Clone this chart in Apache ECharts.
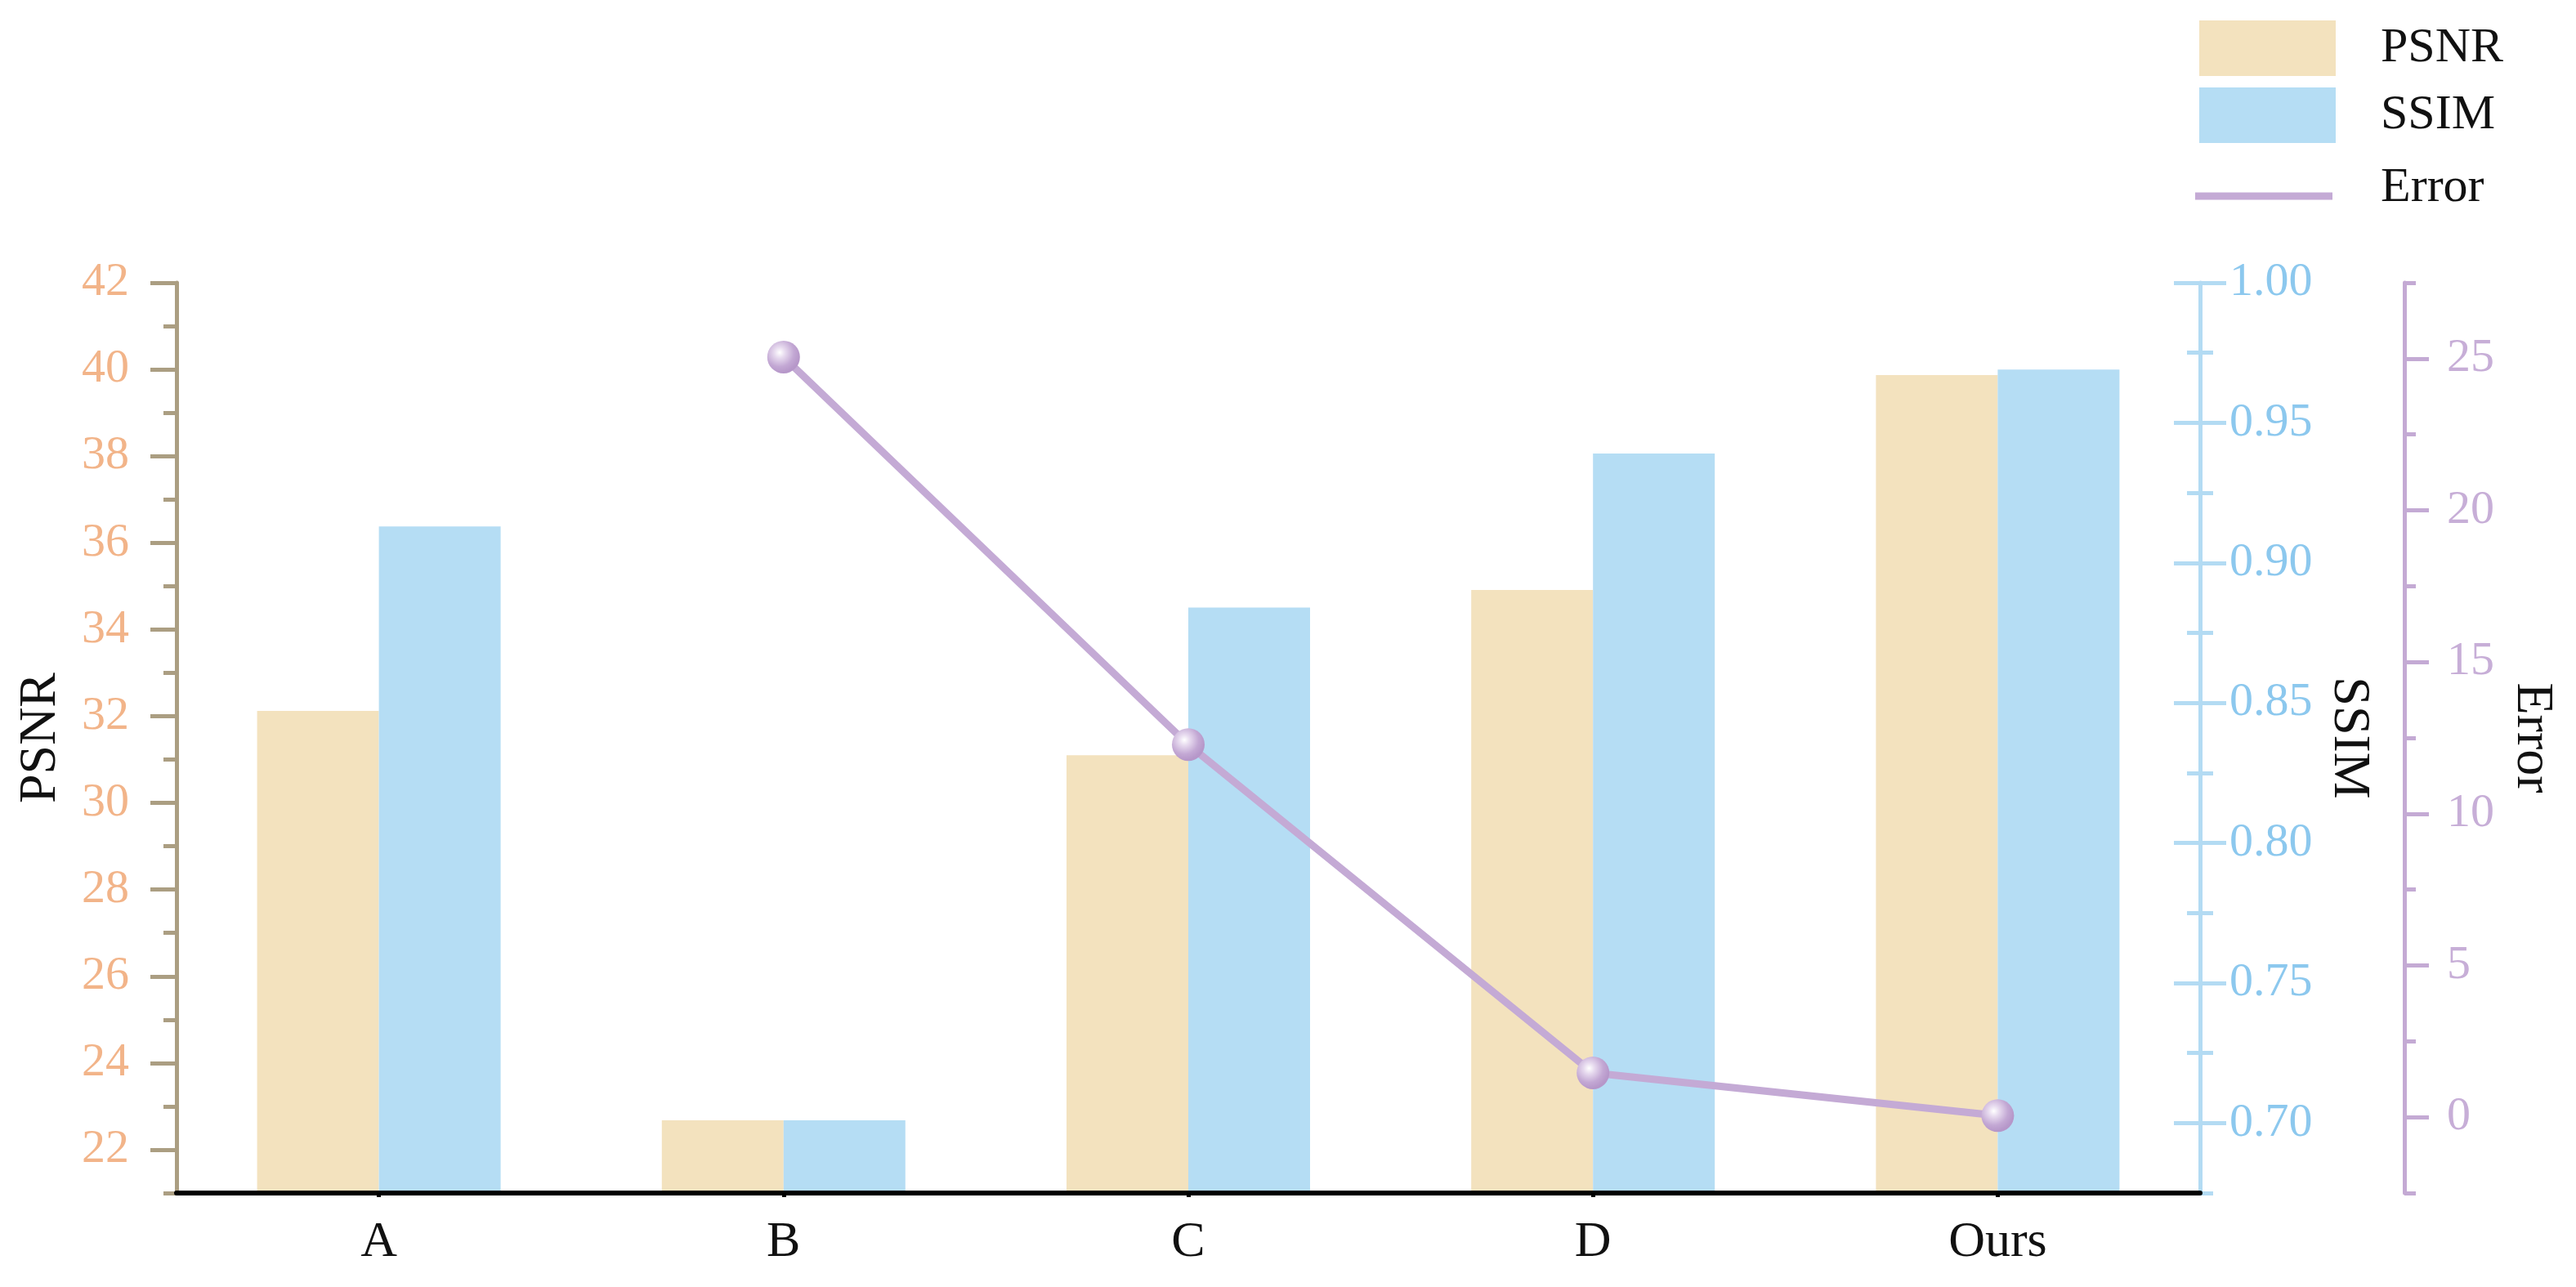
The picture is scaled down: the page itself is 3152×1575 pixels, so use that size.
<!DOCTYPE html>
<html>
<head>
<meta charset="utf-8">
<script src="https://cdn.jsdelivr.net/npm/echarts@6/dist/echarts.min.js"></script>
<style>
html,body{margin:0;padding:0;background:#fff;}
#c{width:3152px;height:1575px;}
</style>
</head>
<body>
<div id="c"></div>
<script>
const categories = ['A', 'B', 'C', 'D', 'Ours'];
const psnrValues = [32.12, 22.68, 31.10, 34.91, 39.87];
const ssimValues = [0.913, 0.701, 0.884, 0.939, 0.969];
const errorValues = [null, 25.05, 12.28, 1.46, 0.05];

const psnrMajorTicks = [22, 24, 26, 28, 30, 32, 34, 36, 38, 40, 42];
const psnrMinorTicks = [21, 23, 25, 27, 29, 31, 33, 35, 37, 39, 41];
const ssimMajorTicks = [0.70, 0.75, 0.80, 0.85, 0.90, 0.95, 1.00];
const ssimMinorTicks = [0.675, 0.725, 0.775, 0.825, 0.875, 0.925, 0.975];
const errorMajorTicks = [0, 5, 10, 15, 20, 25];
const errorMinorTicks = [-2.5, 2.5, 7.5, 12.5, 17.5, 22.5, 27.5];

const FONT = '"Liberation Serif", "DejaVu Serif", serif';
const C_PSNR_BAR = '#F3E2BE';
const C_SSIM_BAR = '#B5DDF4';
const C_PSNR_AXIS = '#AB9E82';
const C_PSNR_LABEL = '#F2B489';
const C_SSIM_AXIS = '#B3DBF3';
const C_SSIM_LABEL = '#8CC8EE';
const C_ERR_AXIS = '#C4AAD4';
const C_ERR_LABEL = '#C7AED7';
const C_ERR_LINE = '#C4AAD5';

const PMIN = 21, PMAX = 42;
const SMIN = 0.675, SMAX = 1.0;
const EMIN = -2.5, EMAX = 27.5;

function tickAxis(base, extra) {
  return Object.assign({
    type: 'value',
    splitLine: { show: false },
    axisLine: { show: false },
    axisLabel: { show: false },
    axisTick: { show: false }
  }, base, extra);
}

const chart = echarts.init(document.getElementById('c'), null, { renderer: 'canvas' });

const yAxes = [
  // 0 PSNR main
  tickAxis({ position: 'left', min: PMIN, max: PMAX }, {
    name: 'PSNR', nameLocation: 'middle', nameGap: 134,
    nameTextStyle: { fontFamily: FONT, fontSize: 64, color: '#111' },
    axisLine: { show: true, onZero: false, lineStyle: { color: C_PSNR_AXIS, width: 5 } },
    axisTick: { show: true, customValues: psnrMajorTicks, length: 32, lineStyle: { color: C_PSNR_AXIS, width: 5 } },
    axisLabel: { show: true, customValues: psnrMajorTicks, margin: 58, color: C_PSNR_LABEL, fontFamily: FONT, fontSize: 58 }
  }),
  // 1 PSNR minor
  tickAxis({ position: 'left', min: PMIN, max: PMAX }, {
    axisTick: { show: true, customValues: psnrMinorTicks, length: 16, lineStyle: { color: C_PSNR_AXIS, width: 5 } }
  }),
  // 2 SSIM main
  tickAxis({ position: 'right', min: SMIN, max: SMAX }, {
    name: 'SSIM', nameLocation: 'middle', nameGap: 150, nameRotate: -90,
    nameTextStyle: { fontFamily: FONT, fontSize: 64, color: '#111' },
    axisLine: { show: true, onZero: false, lineStyle: { color: C_SSIM_AXIS, width: 5 } },
    axisTick: { show: true, customValues: ssimMajorTicks, length: 32, lineStyle: { color: C_SSIM_AXIS, width: 5 } },
    axisLabel: { show: true, customValues: ssimMajorTicks, margin: 36, color: C_SSIM_LABEL, fontFamily: FONT, fontSize: 58,
      formatter: v => Number(v).toFixed(2) }
  }),
  // 3 SSIM major inside
  tickAxis({ position: 'right', min: SMIN, max: SMAX }, {
    axisTick: { show: true, inside: true, customValues: ssimMajorTicks, length: 32, lineStyle: { color: C_SSIM_AXIS, width: 5 } }
  }),
  // 4 SSIM minor outside
  tickAxis({ position: 'right', min: SMIN, max: SMAX }, {
    axisTick: { show: true, customValues: ssimMinorTicks, length: 16, lineStyle: { color: C_SSIM_AXIS, width: 5 } }
  }),
  // 5 SSIM minor inside
  tickAxis({ position: 'right', min: SMIN, max: SMAX }, {
    axisTick: { show: true, inside: true, customValues: ssimMinorTicks, length: 16, lineStyle: { color: C_SSIM_AXIS, width: 5 } }
  }),
  // 6 Error main
  tickAxis({ position: 'right', offset: 250, min: EMIN, max: EMAX }, {
    name: 'Error', nameLocation: 'middle', nameGap: 124, nameRotate: -90,
    nameTextStyle: { fontFamily: FONT, fontSize: 64, color: '#111' },
    axisLine: { show: true, onZero: false, lineStyle: { color: C_ERR_AXIS, width: 5 } },
    axisTick: { show: true, customValues: errorMajorTicks, length: 30, lineStyle: { color: C_ERR_AXIS, width: 5 } },
    axisLabel: { show: true, customValues: errorMajorTicks, margin: 52, color: C_ERR_LABEL, fontFamily: FONT, fontSize: 58 }
  }),
  // 7 Error minor
  tickAxis({ position: 'right', offset: 250, min: EMIN, max: EMAX }, {
    axisTick: { show: true, customValues: errorMinorTicks, length: 14, lineStyle: { color: C_ERR_AXIS, width: 5 } }
  })
];

const sphere = {
  type: 'radial', x: 0.38, y: 0.36, r: 0.62,
  colorStops: [
    { offset: 0, color: '#FFFFFF' },
    { offset: 0.28, color: '#E6D9EE' },
    { offset: 0.7, color: '#C3A8D4' },
    { offset: 1, color: '#B697C9' }
  ]
};

const option = {
  backgroundColor: '#fff',
  animation: false,
  grid: { left: 216, right: 460, top: 346, bottom: 115, containLabel: false },
  legend: [
    {
      orient: 'vertical', left: 2691, top: 25, padding: 0,
      itemWidth: 167, itemHeight: 68, itemGap: 14, icon: 'rect',
      data: ['PSNR', 'SSIM'],
      textStyle: { fontFamily: FONT, fontSize: 60, color: '#111', padding: [0, 0, 0, 50] }
    },
    {
      orient: 'vertical', left: 2686, top: 200, padding: 0,
      itemWidth: 168, itemHeight: 9, icon: 'rect',
      data: [{ name: 'Error', itemStyle: { color: C_ERR_LINE } }],
      formatter: '{e|{name}}',
      textStyle: {
        fontFamily: FONT, fontSize: 60, color: '#111',
        rich: { e: { fontFamily: FONT, fontSize: 60, color: '#111', padding: [0, 0, 20, 54] } }
      }
    }
  ],
  xAxis: {
    type: 'category',
    data: categories,
    axisLine: { show: true, onZero: false, lineStyle: { color: '#000', width: 6 } },
    axisTick: { show: true, alignWithLabel: true, length: 5, lineStyle: { color: '#000', width: 5 } },
    axisLabel: { color: '#111', fontFamily: FONT, fontSize: 62, margin: 30 },
    splitLine: { show: false },
    z: 5
  },
  yAxis: yAxes,
  series: [
    {
      name: 'PSNR', type: 'bar', yAxisIndex: 0, data: psnrValues,
      barWidth: 149, barGap: '0%',
      itemStyle: { color: C_PSNR_BAR }
    },
    {
      name: 'SSIM', type: 'bar', yAxisIndex: 2, data: ssimValues,
      barWidth: 149, barGap: '0%',
      itemStyle: { color: C_SSIM_BAR }
    },
    {
      name: 'Error', type: 'line', yAxisIndex: 6, data: errorValues,
      symbol: 'circle', symbolSize: 40,
      lineStyle: { color: C_ERR_LINE, width: 9 },
      itemStyle: { color: sphere },
      z: 10
    }
  ]
};

chart.setOption(option);
</script>
</body>
</html>
